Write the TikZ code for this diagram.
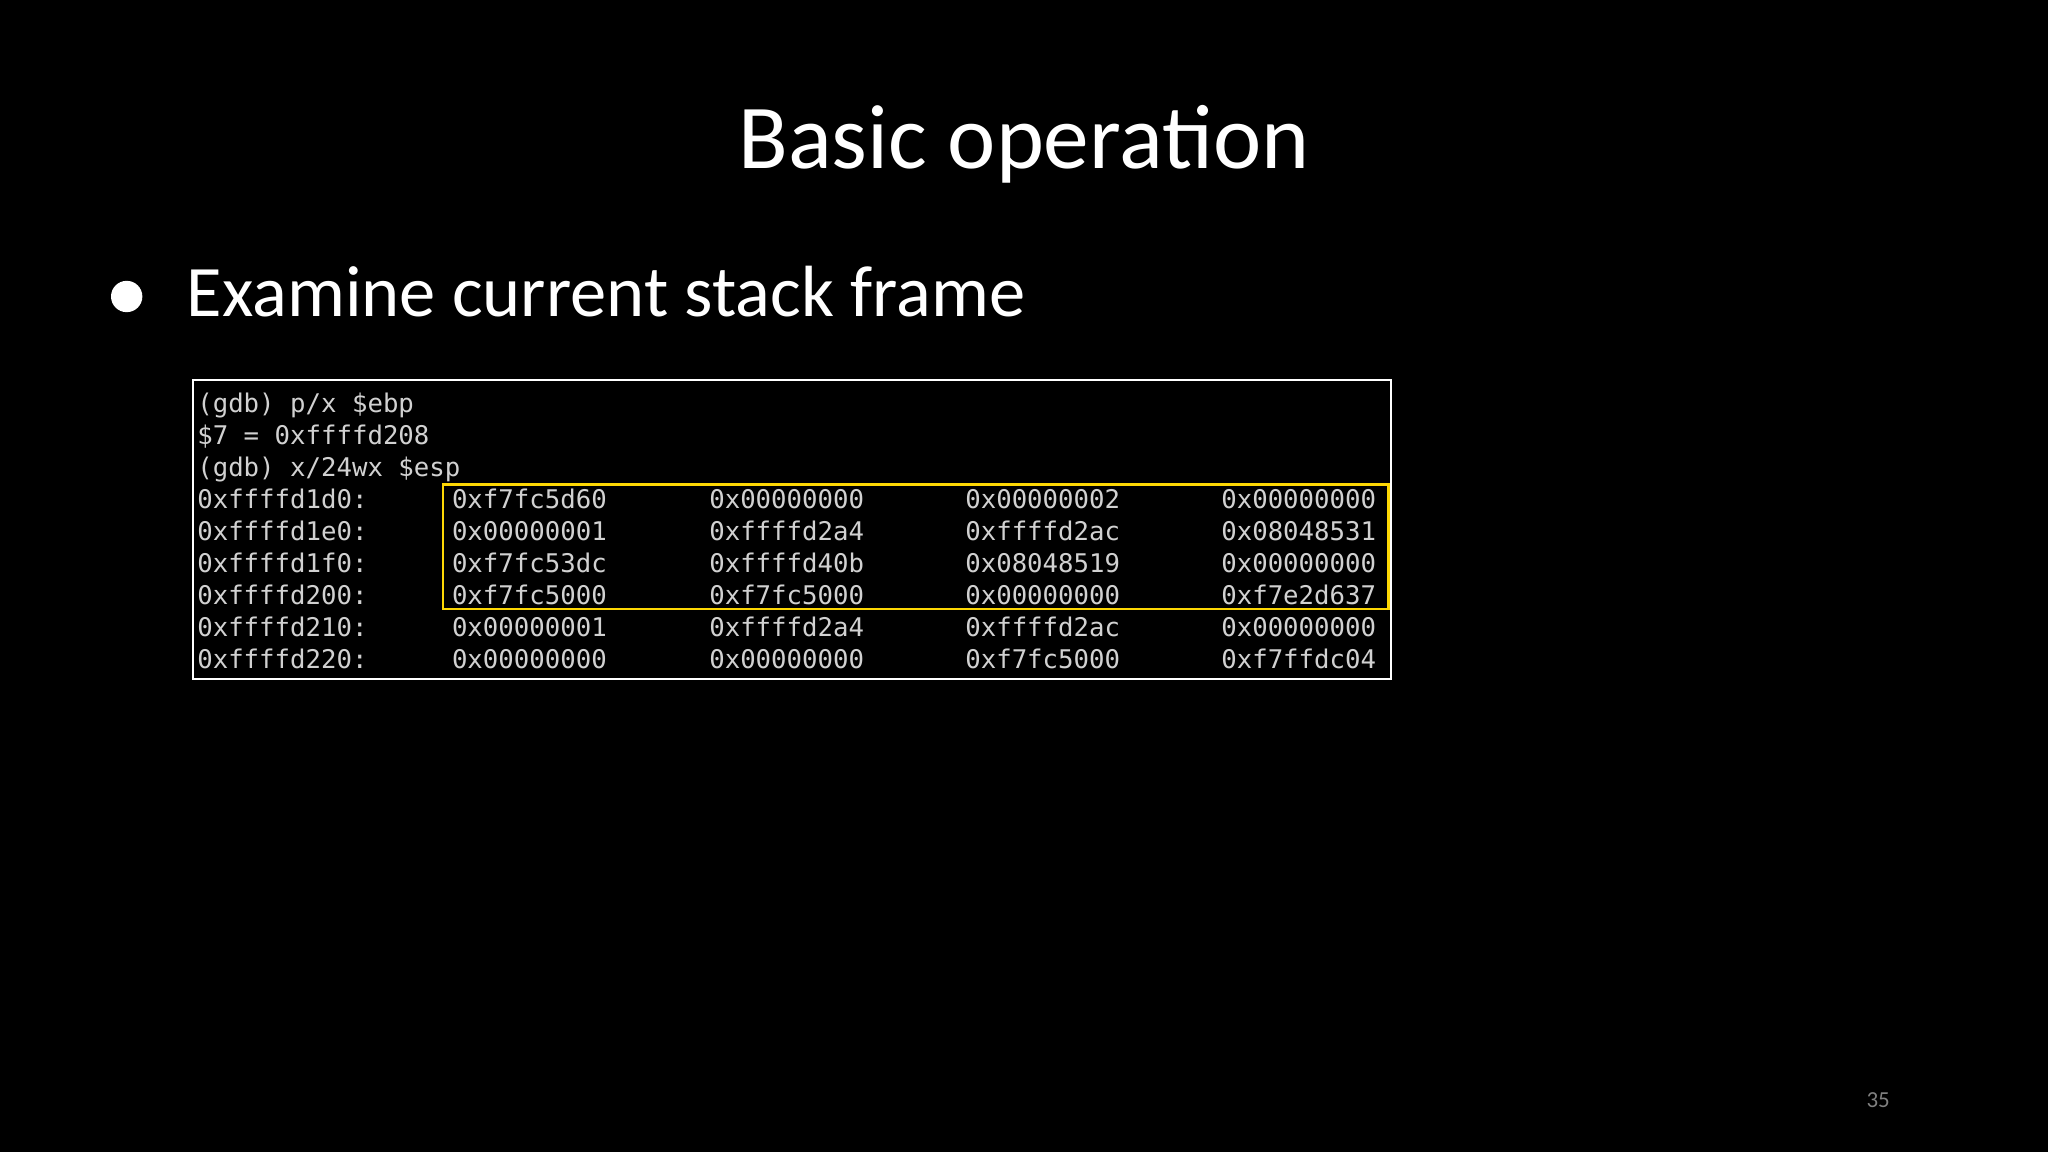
\documentclass[tikz,border=0pt]{standalone}
\usepackage{fontspec}
\setmainfont{Carlito}
\newfontfamily\monof{DejaVu Sans Mono}
\begin{document}
\begin{tikzpicture}[x=0.1cm,y=-0.1cm,
  mono/.style={anchor=base west,inner sep=0pt,text=black!18,font=\monof\fontsize{56}{56}\selectfont}]
\fill[black] (0,0) rectangle (1568,882);
\useasboundingbox (0,0) rectangle (1568,882);
\node[anchor=base,text=white,inner sep=0pt,font=\fontsize{199}{200}\selectfont] (title) at (784,129) {Basic operation};
\fill[white] (97,227) circle (12);
\node[anchor=base west,text=white,inner sep=0pt,font=\fontsize{158}{160}\selectfont] (bul) at (143,242) {Examine current stack frame};
\draw[white,line width=5pt] (148,291) rectangle (1065,520);
\draw[yellow!75!orange,line width=5pt] (339,371) rectangle (1063,466);
\def\r{24.5}
\node[mono] (l1) at (151,316) {(gdb) p/x \$ebp};
\node[mono] (l2) at (151,340.5) {\$7 = 0xffffd208};
\node[mono] (l3) at (151,365) {(gdb) x/24wx \$esp};
\foreach \i/\a/\b/\c/\d/\e in {
 0/0xffffd1d0:/0xf7fc5d60/0x00000000/0x00000002/0x00000000,
 1/0xffffd1e0:/0x00000001/0xffffd2a4/0xffffd2ac/0x08048531,
 2/0xffffd1f0:/0xf7fc53dc/0xffffd40b/0x08048519/0x00000000,
 3/0xffffd200:/0xf7fc5000/0xf7fc5000/0x00000000/0xf7e2d637,
 4/0xffffd210:/0x00000001/0xffffd2a4/0xffffd2ac/0x00000000,
 5/0xffffd220:/0x00000000/0x00000000/0xf7fc5000/0xf7ffdc04}{
  \node[mono] (a\i) at (151,389.5+\i*\r) {\a};
  \node[mono] (b\i) at (346,389.5+\i*\r) {\b};
  \node[mono] (c\i) at (543,389.5+\i*\r) {\c};
  \node[mono] (d\i) at (739,389.5+\i*\r) {\d};
  \node[mono] (e\i) at (935,389.5+\i*\r) {\e};
}
\node[anchor=base,text=black!50,inner sep=0pt,font=\fontsize{50}{50}\selectfont] (pg) at (1438,848) {35};
\end{tikzpicture}
\end{document}
